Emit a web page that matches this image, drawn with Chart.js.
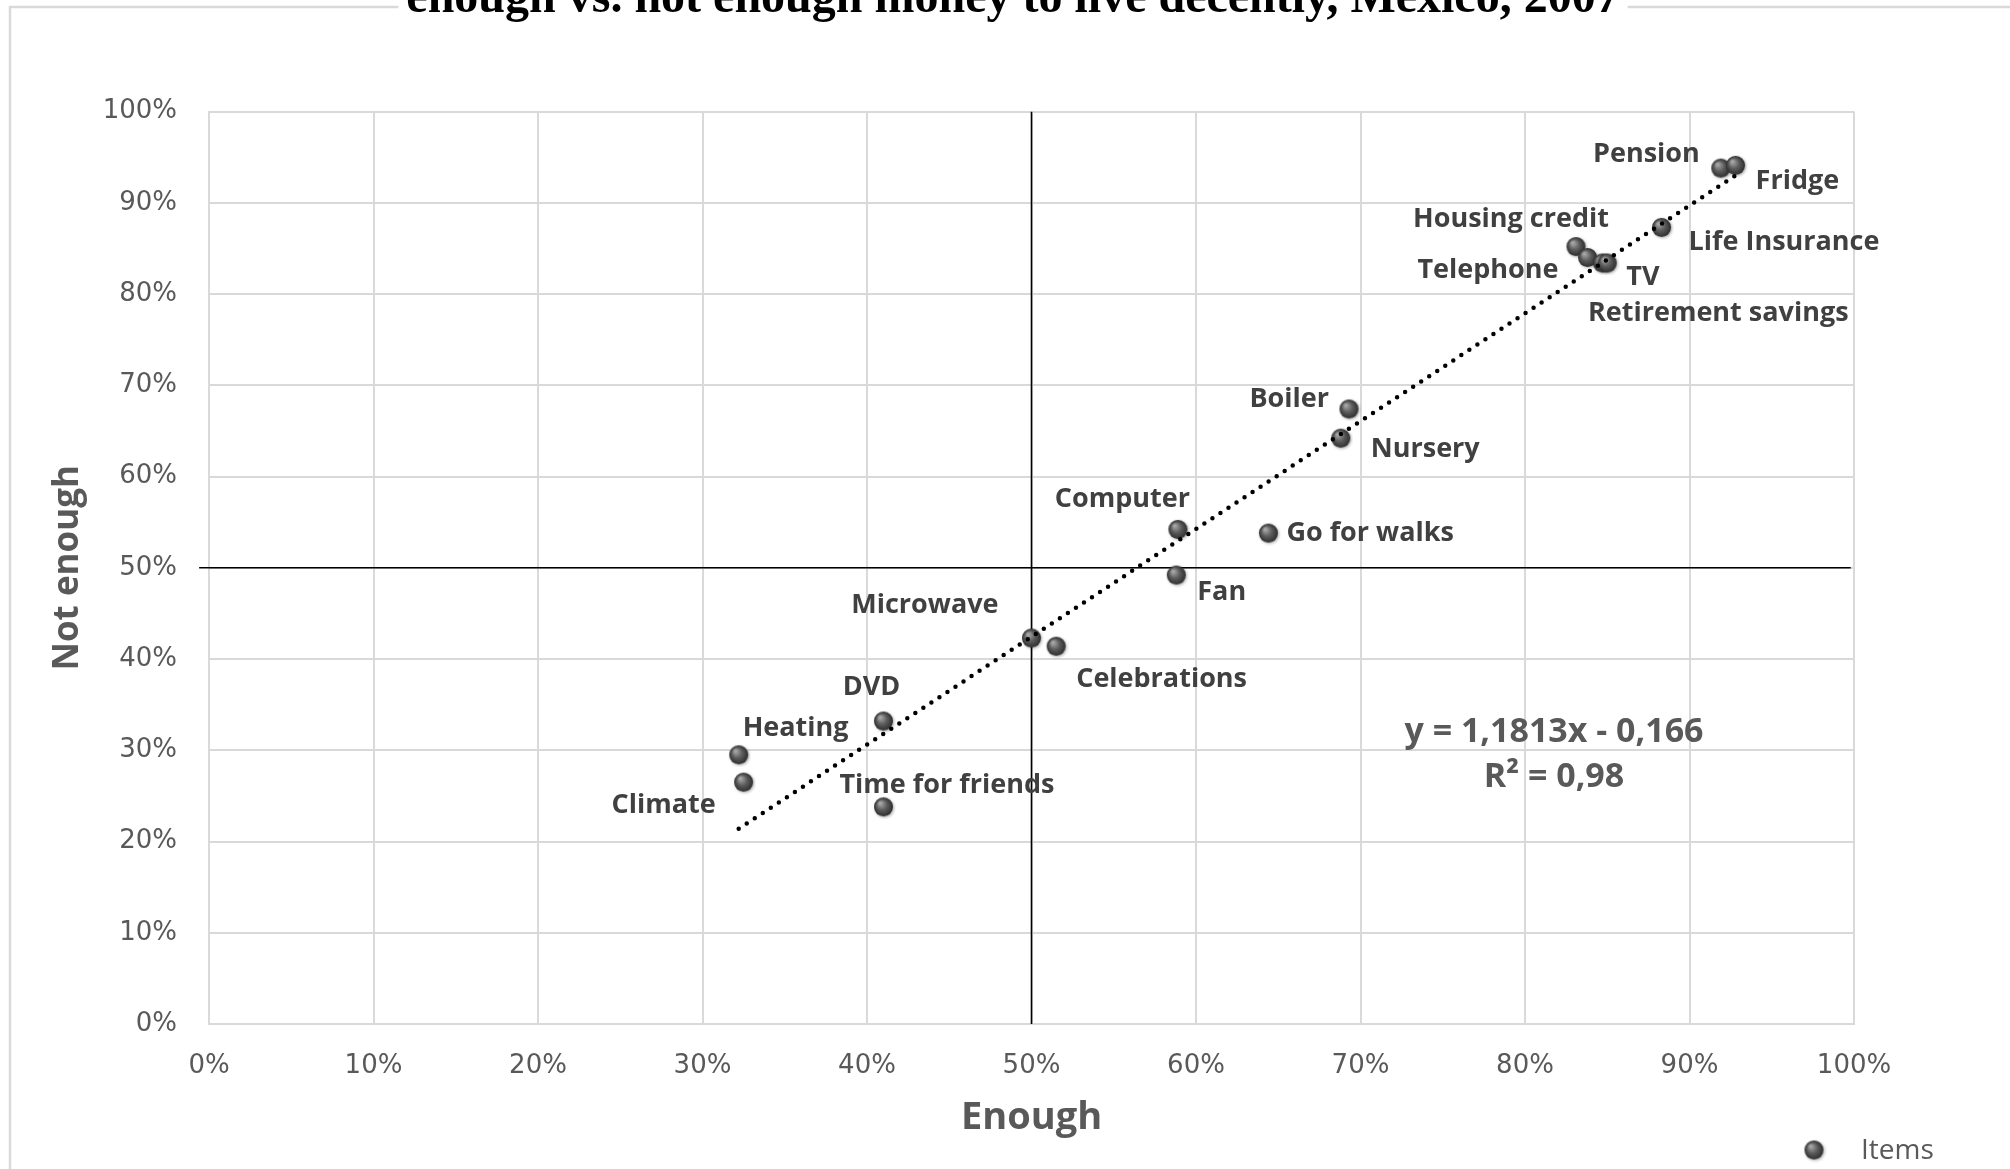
<!DOCTYPE html>
<html>
<head>
<meta charset="utf-8">
<script src="https://cdn.jsdelivr.net/npm/chart.js@4.4.0/dist/chart.umd.min.js"></script>
<style>
  html, body { margin: 0; padding: 0; background: #fff; }
</style>
</head>
<body>
<canvas id="chart" width="2010" height="1169"></canvas>
<script>
// =============================
// Data (in %)
// =============================
const items = ["Pension", "Fridge", "Life Insurance", "Housing credit", "Telephone", "TV",
  "Retirement savings", "Boiler", "Nursery", "Computer", "Go for walks", "Fan",
  "Microwave", "Celebrations", "DVD", "Heating", "Climate", "Time for friends"];
const enough = [91.9, 92.8, 88.3, 83.1, 83.8, 84.7, 85.0, 69.3, 68.8, 58.9, 64.4, 58.8,
  50.0, 51.5, 41.0, 32.2, 32.5, 41.0];
const notEnough = [93.8, 94.1, 87.3, 85.2, 84.0, 83.4, 83.4, 67.4, 64.2, 54.2, 53.8, 49.2,
  42.3, 41.4, 33.2, 29.5, 26.5, 23.8];

// trend line ends
const trendX = [32.2, 92.8];
const trendY = [21.4, 93.0];

// quadrant lines at 50%
const vLineX = [50, 50];
const vLineY = [0, 100];
const hLineX = [-0.6, 99.8];
const hLineY = [50, 50];

const tickValues = [0, 10, 20, 30, 40, 50, 60, 70, 80, 90, 100];
const equationText = ["y = 1,1813x - 0,166", "R\u00b2 = 0,98"];
const titleText = "enough vs. not enough money to live decently, Mexico, 2007";
const seriesName = "Items";

// label placement next to each point: [dx, dy, align]
const labelPlacement = [
  [-21, -14, "right"], [20, 16, "left"], [27, 15, "left"], [-65, -27, "center"],
  [-29, 13, "right"], [24, 14, "left"], [111, 50, "center"], [-20, -10, "right"],
  [30, 11, "left"], [12, -30, "right"], [18, 0, "left"], [21, 17, "left"],
  [-33, -33, "right"], [20, 33, "left"], [-12, -34, "center"], [4, -27, "left"],
  [-28, 23, "right"], [-44, -22, "left"]
];

// =============================
// Marker sprite (grey ball)
// =============================
function makeBall(r) {
  const c = document.createElement("canvas");
  const s = Math.ceil(r * 2 + 6);
  c.width = c.height = s;
  const g = c.getContext("2d");
  const cx = s / 2, cy = s / 2;
  g.shadowColor = "rgba(0,0,0,0.35)";
  g.shadowBlur = 3;
  g.shadowOffsetX = 1;
  g.shadowOffsetY = 1;
  const grad = g.createRadialGradient(cx - r * 0.35, cy - r * 0.4, r * 0.1, cx, cy, r);
  grad.addColorStop(0, "#a6a6a6");
  grad.addColorStop(0.5, "#5c5c5c");
  grad.addColorStop(1, "#2e2e2e");
  g.fillStyle = grad;
  g.beginPath();
  g.arc(cx, cy, r, 0, Math.PI * 2);
  g.fill();
  return c;
}
const ball = makeBall(9.5);

const toPoints = (xs, ys) => xs.map((x, i) => ({ x: x, y: ys[i] }));

// =============================
// Extras: frame, title, labels, equation, legend
// =============================
const extras = {
  id: "extras",
  beforeDraw(chart) {
    const ctx = chart.ctx;
    ctx.save();
    ctx.fillStyle = "#fff";
    ctx.fillRect(0, 0, chart.width, chart.height);
    ctx.strokeStyle = "#d9d9d9";
    ctx.lineWidth = 2.5;
    ctx.strokeRect(10, 7, 2100, 1300);
    // title, cut by the top edge
    ctx.font = "bold 48px 'Liberation Serif'";
    const w = ctx.measureText(titleText).width;
    ctx.fillStyle = "#fff";
    ctx.fillRect(1013 - w / 2 - 8, 0, w + 16, 18);
    ctx.fillStyle = "#000";
    ctx.textAlign = "center";
    ctx.textBaseline = "alphabetic";
    ctx.fillText(titleText, 1013, 12);
    ctx.restore();
  },
  afterDatasetsDraw(chart) {
    const ctx = chart.ctx;
    const meta = chart.getDatasetMeta(1);
    ctx.save();
    ctx.font = "bold 27px 'Open Sans'";
    ctx.fillStyle = "#404040";
    ctx.textBaseline = "middle";
    meta.data.forEach((pt, i) => {
      const p = labelPlacement[i];
      ctx.textAlign = p[2];
      ctx.fillText(items[i], pt.x + p[0], pt.y + p[1]);
    });
    // equation
    ctx.font = "bold 34px 'Open Sans'";
    ctx.fillStyle = "#595959";
    ctx.textAlign = "center";
    ctx.fillText(equationText[0], 1554, 732);
    ctx.fillText(equationText[1], 1554, 777);
    // legend
    ctx.drawImage(ball, 1814 - ball.width / 2, 1150 - ball.height / 2);
    ctx.font = "28px 'Open Sans'";
    ctx.textAlign = "left";
    ctx.fillText(seriesName, 1861, 1151);
    ctx.restore();
  }
};

// =============================
// Chart
// =============================
const pct = (v) => v + "%";
const ctx = document.getElementById("chart").getContext("2d");
new Chart(ctx, {
  type: "scatter",
  data: {
    datasets: [
      {
        label: "Trend",
        data: toPoints(trendX, trendY),
        showLine: true,
        borderColor: "#000",
        borderWidth: 4.5,
        borderDash: [0, 9.6],
        borderCapStyle: "round",
        pointRadius: 0,
      },
      {
        label: seriesName,
        data: toPoints(enough, notEnough),
        pointStyle: ball,
        pointRadius: 10,
      },
      {
        label: "v50",
        data: toPoints(vLineX, vLineY),
        showLine: true,
        borderColor: "#000",
        borderWidth: 1.6,
        pointRadius: 0,
      },
      {
        label: "h50",
        data: toPoints(hLineX, hLineY),
        showLine: true,
        clip: false,
        borderColor: "#000",
        borderWidth: 1.6,
        pointRadius: 0,
      },
    ],
  },
  options: {
    responsive: false,
    animation: false,
    devicePixelRatio: 1,
    layout: { padding: { left: 0, top: 111.5, right: 156, bottom: 0 } },
    plugins: { legend: { display: false }, tooltip: { enabled: false } },
    scales: {
      x: {
        min: 0,
        max: 100,
        afterBuildTicks: (s) => { s.ticks = tickValues.map((v) => ({ value: v })); },
        afterFit: (s) => { s.height = 145; },
        grid: { color: "#d9d9d9", lineWidth: 2, drawTicks: false },
        border: { color: "#d9d9d9", width: 2 },
        ticks: {
          callback: pct,
          color: "#595959",
          font: { family: "DejaVu Sans", size: 26 },
          padding: 27,
          maxRotation: 0,
        },
        title: {
          display: true,
          text: "Enough",
          color: "#595959",
          font: { family: "Open Sans", size: 38, weight: "bold" },
          padding: { top: 0, bottom: 28 },
        },
      },
      y: {
        min: 0,
        max: 100,
        afterBuildTicks: (s) => { s.ticks = tickValues.map((v) => ({ value: v })); },
        afterFit: (s) => { s.width = 209; },
        grid: { color: "#d9d9d9", lineWidth: 2, drawTicks: false },
        border: { color: "#d9d9d9", width: 2 },
        ticks: {
          callback: pct,
          color: "#595959",
          font: { family: "DejaVu Sans", size: 26 },
          padding: 32,
        },
        title: {
          display: true,
          text: "Not enough",
          color: "#595959",
          font: { family: "Open Sans", size: 35, weight: "bold" },
          padding: { top: 47, bottom: 0 },
        },
      },
    },
  },
  plugins: [extras],
});
</script>
</body>
</html>
